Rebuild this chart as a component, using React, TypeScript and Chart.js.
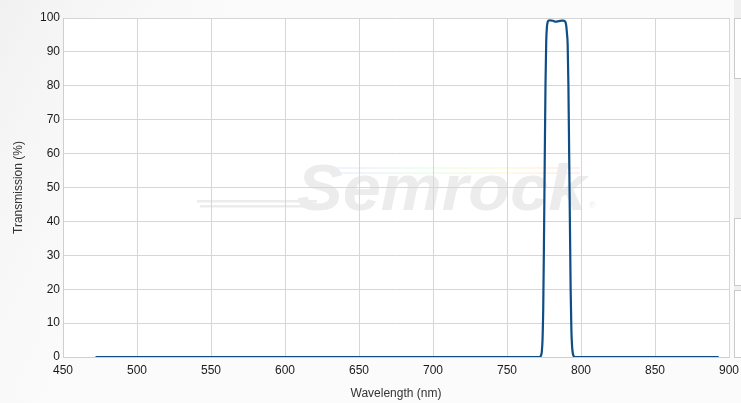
import React, { useEffect, useRef } from "react";
import { Chart, registerables } from "chart.js";

Chart.register(...registerables);

const wavelengths = [
  472, 550, 650, 740, 765, 772, 773, 773.5, 774, 774.5, 775, 775.5, 776, 776.5, 777, 777.5, 778,
  779, 781, 783, 785, 787, 788, 789, 789.5, 790, 790.5, 791, 791.5, 792, 792.5, 793, 793.5, 794,
  794.5, 795, 796, 820, 860, 893,
];
const transmission = [
  0, 0, 0, 0, 0, 0, 0.5, 1.5, 5, 15, 35, 58, 80, 93, 97.5, 98.8, 99.2,
  99.3, 99.2, 98.9, 99.1, 99.2, 99.2, 99.1, 98.8, 97.8, 95.5, 92, 80, 60, 40, 20, 8, 3,
  1, 0.3, 0, 0, 0, 0,
];
const xTicks = [450, 500, 550, 600, 650, 700, 750, 800, 850, 900];
const yTicks = [0, 10, 20, 30, 40, 50, 60, 70, 80, 90, 100];
const xTitle = "Wavelength (nm)";
const yTitle = "Transmission (%)";
const watermark = "Semrock";

const FONT = "'Liberation Sans', Arial, sans-serif";

const bgPlugin = {
  id: "bgPlugin",
  beforeDraw(chart: any) {
    const { ctx, width, height, chartArea } = chart;
    ctx.save();
    ctx.fillStyle = "#fbfbfb";
    ctx.fillRect(0, 0, width, height);
    const g = ctx.createLinearGradient(0, 0, 260, 120);
    g.addColorStop(0, "#f1f1f1");
    g.addColorStop(1, "rgba(251,251,251,0)");
    ctx.fillStyle = g;
    ctx.fillRect(0, 0, width, height);

    // right-side panel
    ctx.fillStyle = "#f0f0f0";
    ctx.fillRect(734, 0, 7, 358);
    ctx.fillStyle = "#ffffff";
    ctx.strokeStyle = "#c9c9c9";
    ctx.lineWidth = 1;
    const boxes = [
      [18, 78],
      [218, 285],
      [290, 357],
    ];
    for (const [a, b] of boxes) {
      ctx.fillRect(734.5, a + 0.5, 10, b - a);
      ctx.strokeRect(734.5, a + 0.5, 10, b - a);
    }

    ctx.fillStyle = "#ffffff";
    ctx.fillRect(chartArea.left, chartArea.top, chartArea.right - chartArea.left, chartArea.bottom - chartArea.top);

    // watermark
    ctx.fillStyle = "#ececec";
    ctx.fillRect(197, 200, 120, 2.5);
    ctx.fillRect(200, 205, 115, 2.5);
    const rg = ctx.createLinearGradient(330, 0, 580, 0);
    rg.addColorStop(0, "rgba(200,200,255,0.25)");
    rg.addColorStop(0.4, "rgba(200,255,200,0.3)");
    rg.addColorStop(0.7, "rgba(255,240,190,0.35)");
    rg.addColorStop(1, "rgba(255,200,200,0.3)");
    ctx.fillStyle = rg;
    ctx.fillRect(335, 167, 245, 2);
    ctx.fillRect(340, 172, 240, 2);
    ctx.font = `italic bold 64px ${FONT}`;
    ctx.fillStyle = "#ececec";
    ctx.textBaseline = "alphabetic";
    ctx.textAlign = "left";
    ctx.save();
    ctx.translate(297, 210);
    ctx.scale(1.07, 1);
    ctx.fillText(watermark, 0, 0);
    ctx.restore();
    ctx.font = `9px ${FONT}`;
    ctx.fillText("®", 589, 208);
    ctx.restore();
  },
};

export default function App() {
  const ref = useRef<HTMLCanvasElement | null>(null);
  useEffect(() => {
    document.body.style.margin = "0";
    const canvas = ref.current!;
    const data = wavelengths.map((w, i) => ({ x: w, y: transmission[i] }));
    const chart = new Chart(canvas, {
      type: "line",
      data: {
        datasets: [
          {
            data,
            borderColor: "#0f4d86",
            borderWidth: 2.2,
            pointRadius: 0,
            tension: 0.35,
            cubicInterpolationMode: "monotone",
            fill: false,
          },
        ],
      },
      options: {
        responsive: false,
        animation: false,
        devicePixelRatio: 1,
        layout: { padding: { top: 18, right: 12, left: 0, bottom: 0 } },
        plugins: { legend: { display: false }, tooltip: { enabled: false } },
        scales: {
          x: {
            type: "linear",
            min: 450,
            max: 900,
            afterFit: (s: any) => {
              s.height = 46;
              s.paddingRight = 0;
              s.paddingLeft = 0;
            },
            afterBuildTicks: (s: any) => {
              s.ticks = xTicks.map((v) => ({ value: v }));
            },
            grid: { color: "#d6d6d6", drawTicks: false },
            border: { color: "#cfcfcf" },
            ticks: { color: "#1a1a1a", font: { family: FONT, size: 12 }, padding: 6, maxRotation: 0 },
            title: { display: true, text: xTitle, color: "#333", font: { family: FONT, size: 12 }, padding: { top: 2, bottom: 2 } },
          },
          y: {
            min: 0,
            max: 100,
            afterFit: (s: any) => {
              s.width = 63;
              s.paddingTop = 0;
              s.paddingBottom = 0;
            },
            afterBuildTicks: (s: any) => {
              s.ticks = yTicks.map((v) => ({ value: v }));
            },
            grid: { color: "#d6d6d6", drawTicks: false },
            border: { color: "#cfcfcf" },
            ticks: { color: "#1a1a1a", font: { family: FONT, size: 12 }, padding: 3 },
            title: { display: true, text: yTitle, color: "#333", font: { family: FONT, size: 12 }, padding: { top: 11, bottom: 4 } },
          },
        },
      },
      plugins: [bgPlugin],
    } as any);
    return () => chart.destroy();
  }, []);
  return <canvas ref={ref} width={741} height={403} style={{ display: "block", width: 741, height: 403 }} />;
}
